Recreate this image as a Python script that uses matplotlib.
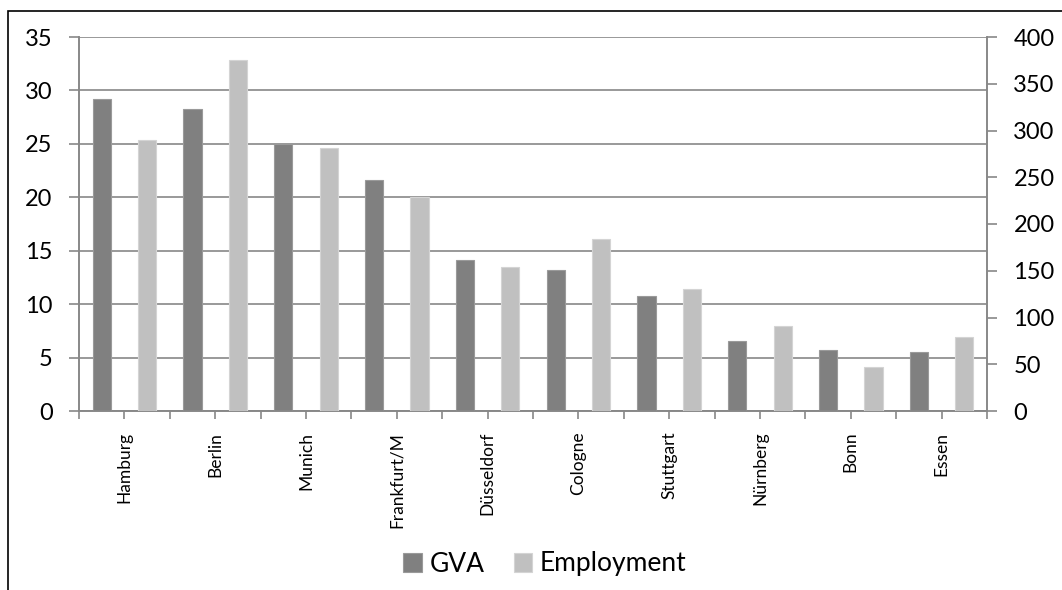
import matplotlib.pyplot as plt
import numpy as np
from matplotlib.patches import Rectangle

plt.rcParams['font.family'] = ['Lato', 'DejaVu Sans']

cities = ['Hamburg', 'Berlin', 'Munich', 'Frankfurt/M', 'Düsseldorf',
          'Cologne', 'Stuttgart', 'Nürnberg', 'Bonn', 'Essen']
gva = [29.2, 28.3, 25.0, 21.65, 14.1, 13.2, 10.8, 6.55, 5.7, 5.55]
employment = [290, 375, 281, 229, 154, 184, 130, 91, 47, 79]

darkGrey = '#808080'
lightGrey = '#c0c0c0'
lineGrey = '#888888'

fig = plt.figure(figsize=(10.62, 5.9), dpi=100)
ax1 = fig.add_axes([79 / 1062, 1 - 411 / 590, 908 / 1062, 374 / 590])
ax2 = ax1.twinx()

x = np.arange(len(cities))
barWidth = 0.2
ax1.bar(x - 0.25, gva, barWidth, color=darkGrey, edgecolor='#9a9a9a',
        linewidth=0.8, label='GVA', zorder=3)
ax2.bar(x + 0.25, employment, barWidth, color=lightGrey, edgecolor='#d4d4d4',
        linewidth=0.8, label='Employment', zorder=3)

ax1.set_xlim(-0.5, len(cities) - 0.5)
ax1.set_ylim(0, 35)
ax2.set_ylim(0, 400)
ax1.set_yticks(np.arange(0, 36, 5))
ax2.set_yticks(np.arange(0, 401, 50))

# horizontal grid from the left axis only
ax1.yaxis.grid(True, color=lineGrey, linewidth=1.2)
ax1.set_axisbelow(True)

for ax in (ax1, ax2):
    ax.spines['top'].set_visible(False)
    for side in ('left', 'right', 'bottom'):
        ax.spines[side].set_color(lineGrey)
        ax.spines[side].set_linewidth(1.2)
    ax.tick_params(axis='y', colors=lineGrey, length=7, width=1.2,
                   labelcolor='black', labelsize=17, pad=12)

# category ticks at centres and boundaries
ax1.set_xticks(x)
ax1.set_xticks(np.arange(-0.5, len(cities), 1.0), minor=True)
ax1.set_xticklabels(cities, rotation=90, fontsize=12.5)
ax1.tick_params(axis='x', which='both', colors=lineGrey, length=6, width=1.2,
                labelcolor='black')
ax1.tick_params(axis='x', which='major', pad=9)

handles = [ax1.patches[0], ax2.patches[0]]
fig.legend(handles, ['GVA', 'Employment'], loc='center',
           bbox_to_anchor=(545 / 1062, 1 - 564 / 590), ncol=2, frameon=False,
           fontsize=19, handlelength=0.7, handleheight=0.7,
           handletextpad=0.3, columnspacing=1.1)

# outer chart frame
fig.patches.append(Rectangle((8 / 1062, -0.1), 1.2, 1 - 11 / 590 + 0.1,
                             transform=fig.transFigure, fill=False,
                             edgecolor='black', linewidth=1.2))

fig.savefig('out.png', dpi=100)
